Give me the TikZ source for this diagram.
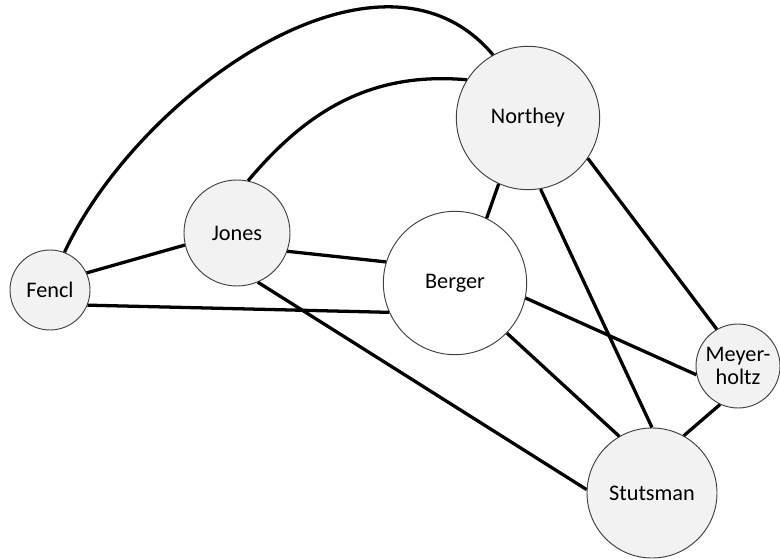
\documentclass[tikz,border=0pt]{standalone}
\usepackage{fontspec}
\setmainfont{Carlito}
\definecolor{nodefill}{HTML}{F2F2F2}
\definecolor{nodeline}{HTML}{404040}
\tikzset{
  person/.style={circle,draw=nodeline,line width=0.8pt,fill=nodefill,inner sep=0pt,align=center,font=\fontsize{19}{20}\selectfont},
  tie/.style={line width=2.8pt}
}
\begin{document}
\begin{tikzpicture}[x=0.03cm,y=-0.03cm]
  \useasboundingbox (0,0) rectangle (780,559);
  % people
  \node[person,minimum size=2.4cm] (fencl) at (50,290) {Fencl};
  \node[person,minimum size=3.18cm] (jones) at (237,233) {Jones};
  \node[person,minimum size=4.3cm] (northey) at (528,118) {Northey};
  \node[person,minimum size=4.3cm,fill=white] (berger) at (455,283) {Berger};
  \node[person,minimum size=2.52cm] (meyer) at (738,366) {Meyer-\\holtz};
  \node[person,minimum size=3.9cm] (stutsman) at (652,493) {Stutsman};
  % ties
  \draw[tie] (fencl.69) to[out=65,in=130,looseness=0.95] (northey.119);
  \draw[tie] (jones.78) to[out=50,in=175] (northey.148);
  \draw[tie] (fencl.25) -- (jones.193);
  \draw[tie] (fencl.-22) -- (berger.204);
  \draw[tie] (jones.-20) -- (berger.163);
  \draw[tie] (jones.-67) -- (stutsman.177);
  \draw[tie] (northey.246) -- (berger.64);
  \draw[tie] (northey.-80) -- (stutsman.90);
  \draw[tie] (northey.-34) -- (meyer.120);
  \draw[tie] (berger.-12) -- (meyer.192);
  \draw[tie] (berger.-44) -- (stutsman.120);
  \draw[tie] (stutsman.61) -- (meyer.245);
\end{tikzpicture}
\end{document}
